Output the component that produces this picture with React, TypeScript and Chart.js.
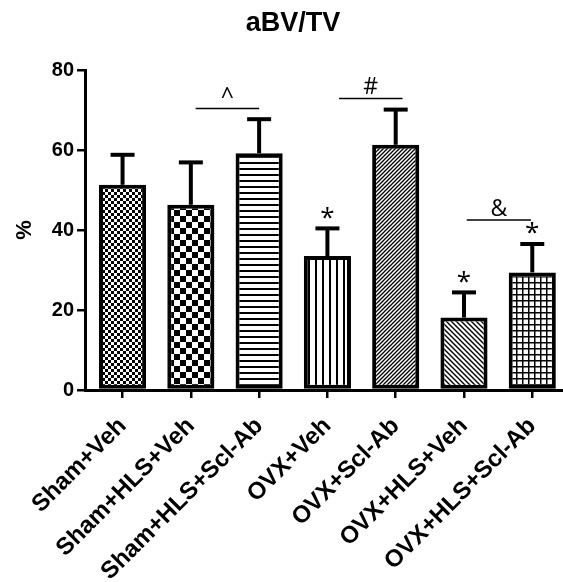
import React, { useEffect, useRef } from "react";
import { Chart, registerables } from "chart.js";

Chart.register(...registerables);

const chartTitle = "aBV/TV";
const yAxisTitle = "%";
const categories = [
  "Sham+Veh",
  "Sham+HLS+Veh",
  "Sham+HLS+Scl-Ab",
  "OVX+Veh",
  "OVX+Scl-Ab",
  "OVX+HLS+Veh",
  "OVX+HLS+Scl-Ab",
];
const means = [51.3, 46.3, 59.2, 33.5, 61.3, 18.1, 29.4];
const errors = [7.5, 10.6, 8.5, 6.9, 8.8, 6.3, 7.1];
const starMarks = ["", "", "", "*", "", "*", "*"];
const bracketLabels = ["^", "#", "&"];
const bracketFrom = [1.07, 3.17, 5.04];
const bracketTo = [2.0, 4.1, 5.98];
const bracketLevel = [70.4, 72.9, 42.5];
const yMin = 0;
const yMax = 80;
const yStep = 20;
const patternKinds = ["fineCheck", "check", "hLines", "vLines", "diagUp", "diagDown", "grid"];

const FONT = "'Liberation Sans', Arial, sans-serif";
const SYM_FONT = "'Open Sans', 'Noto Sans', sans-serif";

function makePattern(kind: string): CanvasPattern | string {
  const c = document.createElement("canvas");
  let n = 6;
  if (kind === "fineCheck") n = 6;
  if (kind === "check") n = 12;
  if (kind === "hLines") n = 6;
  if (kind === "vLines") n = 7;
  if (kind === "diagUp") n = 4;
  if (kind === "diagDown") n = 5;
  if (kind === "grid") n = 6;
  c.width = n;
  c.height = n;
  const g = c.getContext("2d")!;
  g.fillStyle = "#fff";
  g.fillRect(0, 0, n, n);
  g.fillStyle = "#000";
  g.strokeStyle = "#000";
  if (kind === "fineCheck" || kind === "check") {
    const h = n / 2;
    g.fillRect(0, 0, h, h);
    g.fillRect(h, h, h, h);
  } else if (kind === "hLines") {
    g.fillRect(0, 0, n, 2);
  } else if (kind === "vLines") {
    g.fillRect(0, 0, 2, n);
  } else if (kind === "grid") {
    g.fillRect(0, 0, n, 1.5);
    g.fillRect(0, 0, 1.5, n);
  } else if (kind === "diagUp") {
    g.lineWidth = 1.3;
    g.beginPath();
    g.moveTo(0, n);
    g.lineTo(n, 0);
    g.moveTo(-1, 1);
    g.lineTo(1, -1);
    g.moveTo(n - 1, n + 1);
    g.lineTo(n + 1, n - 1);
    g.stroke();
  } else if (kind === "diagDown") {
    g.lineWidth = 1.4;
    g.beginPath();
    g.moveTo(0, 0);
    g.lineTo(n, n);
    g.moveTo(-1, n - 1);
    g.lineTo(1, n + 1);
    g.moveTo(n - 1, -1);
    g.lineTo(n + 1, 1);
    g.stroke();
  }
  const p = g.createPattern(c, "repeat");
  return p || "#888";
}

const annotationPlugin = {
  id: "annotations",
  afterDatasetsDraw(chart: any) {
    const ctx = chart.ctx as CanvasRenderingContext2D;
    const xs = chart.scales.x;
    const ys = chart.scales.y;
    ctx.save();
    ctx.strokeStyle = "#000";
    ctx.lineCap = "butt";
    means.forEach((m, i) => {
      const x = xs.getPixelForValue(i);
      const y0 = ys.getPixelForValue(m);
      const y1 = ys.getPixelForValue(m + errors[i]);
      ctx.lineWidth = 4;
      ctx.beginPath();
      ctx.moveTo(x, y0);
      ctx.lineTo(x, y1);
      ctx.stroke();
      ctx.beginPath();
      ctx.moveTo(x - 12, y1);
      ctx.lineTo(x + 12, y1);
      ctx.stroke();
      if (starMarks[i]) {
        ctx.fillStyle = "#000";
        ctx.font = `26px ${SYM_FONT}`;
        ctx.textAlign = "center";
        ctx.textBaseline = "middle";
        ctx.fillText(starMarks[i], x, y1 - 10);
      }
    });
    bracketLabels.forEach((lab, i) => {
      const xa = xs.getPixelForValue(bracketFrom[i]);
      const xb = xs.getPixelForValue(bracketTo[i]);
      const y = ys.getPixelForValue(bracketLevel[i]);
      ctx.lineWidth = 1.5;
      ctx.beginPath();
      ctx.moveTo(xa, y);
      ctx.lineTo(xb, y);
      ctx.stroke();
      ctx.fillStyle = "#000";
      ctx.font = `23px ${SYM_FONT}`;
      ctx.textAlign = "center";
      ctx.textBaseline = "alphabetic";
      ctx.fillText(lab, (xa + xb) / 2, y - 4);
    });
    ctx.font = `bold 27px ${FONT}`;
    ctx.textAlign = "center";
    ctx.textBaseline = "middle";
    ctx.fillStyle = "#000";
    ctx.fillText(chartTitle, 293, 24);
    ctx.restore();
  },
};

export default function App() {
  const ref = useRef<HTMLCanvasElement | null>(null);
  useEffect(() => {
    if (!ref.current) return;
    const patterns = patternKinds.map(makePattern);
    const chart = new Chart(ref.current, {
      type: "bar",
      data: {
        datasets: [
          {
            data: means.map((m, i) => ({ x: i, y: m })) as any,
            backgroundColor: patterns as any,
            borderColor: "#000",
            borderWidth: 4,
            borderSkipped: false,
            barPercentage: 0.69,
            categoryPercentage: 1,
          },
        ],
      },
      options: {
        responsive: false,
        animation: false,
        layout: { padding: { top: 70, right: 0, bottom: 0, left: 0 } },
        plugins: {
          legend: { display: false },
          tooltip: { enabled: false },
          title: { display: false },
        },
        scales: {
          x: {
            type: "linear",
            offset: false,
            min: -0.55,
            max: 6.45,
            afterBuildTicks: (scale: any) => {
              scale.ticks = categories.map((_, i) => ({ value: i }));
            },
            afterFit: (scale: any) => {
              scale.height = 192;
              scale.paddingLeft = 0;
              scale.paddingRight = 0;
            },
            border: { display: true, color: "#000", width: 3 },
            grid: {
              display: true,
              offset: false,
              drawOnChartArea: false,
              drawTicks: true,
              tickLength: 8,
              color: "#000",
              lineWidth: 2.5,
            },
            ticks: {
              autoSkip: false,
              maxRotation: 45,
              minRotation: 45,
              padding: 14,
              color: "#000",
              font: { family: FONT, size: 24, weight: "bold" },
              callback: (v: any) => categories[Math.round(Number(v))] ?? "",
            },
          },
          y: {
            min: yMin,
            max: yMax,
            afterFit: (scale: any) => {
              scale.width = 85;
            },
            border: { display: true, color: "#000", width: 3 },
            grid: {
              display: true,
              drawOnChartArea: false,
              drawTicks: true,
              tickLength: 8,
              color: "#000",
              lineWidth: 2.5,
            },
            ticks: {
              stepSize: yStep,
              padding: 3,
              color: "#000",
              font: { family: FONT, size: 20, weight: "bold" },
            },
            title: {
              display: true,
              text: yAxisTitle,
              color: "#000",
              padding: { top: 12, bottom: 0 },
              font: { family: FONT, size: 22, weight: "bold" },
            },
          },
        },
      },
      plugins: [annotationPlugin],
    });
    return () => chart.destroy();
  }, []);
  return (
    <div style={{ position: "absolute", left: 0, top: 0, width: 563, height: 582, background: "#fff" }}>
      <canvas ref={ref} width={563} height={582} style={{ display: "block" }} />
    </div>
  );
}
